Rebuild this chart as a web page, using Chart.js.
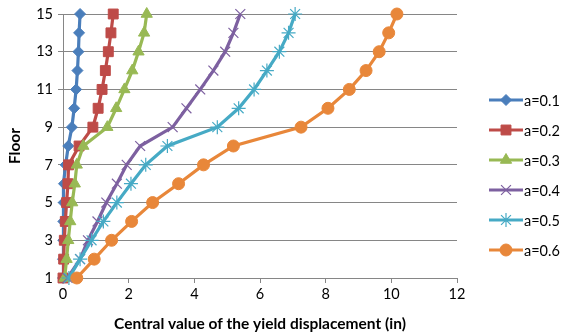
<!DOCTYPE html>
<html>
<head>
<meta charset="utf-8">
<script src="https://cdn.jsdelivr.net/npm/chart.js@4/dist/chart.umd.min.js"></script>
<style>
  html, body { margin: 0; padding: 0; background: #ffffff; }
  #wrap { width: 563px; height: 333px; }
</style>
</head>
<body>
<div id="wrap"><canvas id="c" width="563" height="333"></canvas></div>
<script>
// Floors (y) and yield displacement per floor (x, inches) for each ratio a
const floors = [1, 2, 3, 4, 5, 6, 7, 8, 9, 10, 11, 12, 13, 14, 15];
const seriesLabels = ['a=0.1', 'a=0.2', 'a=0.3', 'a=0.4', 'a=0.5', 'a=0.6'];
const a01 = [0.00, 0.00, 0.01, 0.01, 0.02, 0.03, 0.08, 0.16, 0.27, 0.34, 0.40, 0.44, 0.47, 0.49, 0.52];
const a02 = [0.00, 0.02, 0.04, 0.07, 0.11, 0.15, 0.17, 0.49, 0.91, 1.07, 1.19, 1.29, 1.38, 1.46, 1.53];
const a03 = [0.05, 0.11, 0.16, 0.22, 0.28, 0.36, 0.42, 0.62, 1.35, 1.62, 1.87, 2.11, 2.30, 2.47, 2.55];
const a04 = [0.14, 0.52, 0.76, 1.05, 1.32, 1.64, 1.94, 2.35, 3.34, 3.76, 4.18, 4.58, 4.94, 5.19, 5.40];
const a05 = [0.18, 0.52, 0.87, 1.23, 1.64, 2.07, 2.52, 3.18, 4.70, 5.35, 5.82, 6.21, 6.59, 6.87, 7.07];
const a06 = [0.42, 0.95, 1.48, 2.09, 2.73, 3.52, 4.28, 5.19, 7.25, 8.07, 8.72, 9.23, 9.63, 9.92, 10.17];
const xTicks = [0, 2, 4, 6, 8, 10, 12];
const yTicks = [1, 3, 5, 7, 9, 11, 13, 15];

const seriesValues = [a01, a02, a03, a04, a05, a06];
const colors = ['#4A7EBB', '#BE4B48', '#98B954', '#7D60A0', '#46AAC5', '#E8873A'];
const markers = ['rectRot', 'rect', 'triangle', 'crossRot', 'star', 'circle'];
const radii = [5.5, 7, 6.5, 7, 7, 6];

const FONT = 'Lato, "Liberation Sans", sans-serif';

const datasets = seriesValues.map((vals, i) => ({
  label: seriesLabels[i],
  data: vals.map((v, k) => ({ x: v, y: floors[k] })),
  showLine: true,
  tension: 0,
  borderColor: colors[i],
  backgroundColor: colors[i],
  borderWidth: 3.2,
  pointStyle: markers[i],
  pointRadius: radii[i],
  pointBackgroundColor: colors[i],
  pointBorderColor: colors[i],
  pointBorderWidth: (markers[i] === 'crossRot' || markers[i] === 'star') ? 1.2 : 1,
  clip: false,
  order: seriesValues.length - i
}));

// Legend drawn at the right: short line segment with the series marker, then the label
const sideLegend = {
  id: 'sideLegend',
  afterDraw(chart) {
    const ctx = chart.ctx;
    const x0 = 489, x1 = 523, top = 100, step = 30;
    chart.data.datasets.forEach((ds, i) => {
      const y = top + i * step;
      ctx.save();
      ctx.strokeStyle = ds.borderColor;
      ctx.lineWidth = 3.2;
      ctx.beginPath();
      ctx.moveTo(x0, y);
      ctx.lineTo(x1, y);
      ctx.stroke();
      ctx.fillStyle = ds.pointBackgroundColor;
      ctx.strokeStyle = ds.pointBorderColor;
      ctx.lineWidth = ds.pointBorderWidth;
      Chart.helpers.drawPoint(ctx, {
        pointStyle: ds.pointStyle,
        radius: ds.pointRadius,
        rotation: 0,
        borderWidth: ds.pointBorderWidth
      }, (x0 + x1) / 2, y);
      ctx.fillStyle = '#000000';
      ctx.font = '14.5px ' + FONT;
      ctx.textAlign = 'left';
      ctx.textBaseline = 'middle';
      ctx.fillText(ds.label, x1 + 1, y + 1);
      ctx.restore();
    });
  }
};

new Chart(document.getElementById('c'), {
  type: 'scatter',
  data: { datasets },
  options: {
    responsive: false,
    animation: false,
    layout: { padding: { left: 0, right: 106, top: 14, bottom: 0 } },
    plugins: {
      legend: { display: false },
      tooltip: { enabled: false }
    },
    scales: {
      x: {
        type: 'linear',
        min: 0,
        max: 12,
        afterBuildTicks: (s) => { s.ticks = xTicks.map(v => ({ value: v })); },
        afterFit: (s) => { s.height = 55; },
        grid: {
          drawOnChartArea: false,
          drawTicks: true,
          tickLength: 5,
          color: '#868686'
        },
        border: { display: true, color: '#868686', width: 1 },
        ticks: {
          color: '#000000',
          font: { family: FONT, size: 14.5 },
          padding: 3,
          maxRotation: 0
        },
        title: {
          display: true,
          text: 'Central value of the yield displacement (in)',
          color: '#000000',
          font: { family: FONT, size: 15.5, weight: 'bold' },
          padding: { top: 4, bottom: 0 }
        }
      },
      y: {
        type: 'linear',
        min: 1,
        max: 15,
        afterBuildTicks: (s) => { s.ticks = yTicks.map(v => ({ value: v })); },
        afterFit: (s) => { s.width = 63; },
        grid: {
          drawOnChartArea: true,
          drawTicks: true,
          tickLength: 5,
          color: '#868686',
          lineWidth: 1
        },
        border: { display: true, color: '#868686', width: 1 },
        ticks: {
          color: '#000000',
          font: { family: FONT, size: 14.5 },
          padding: 5
        },
        title: {
          display: true,
          text: 'Floor',
          color: '#000000',
          font: { family: FONT, size: 15.5, weight: 'bold' },
          padding: { top: 6, bottom: 0 }
        }
      }
    }
  },
  plugins: [sideLegend]
});
</script>
</body>
</html>
